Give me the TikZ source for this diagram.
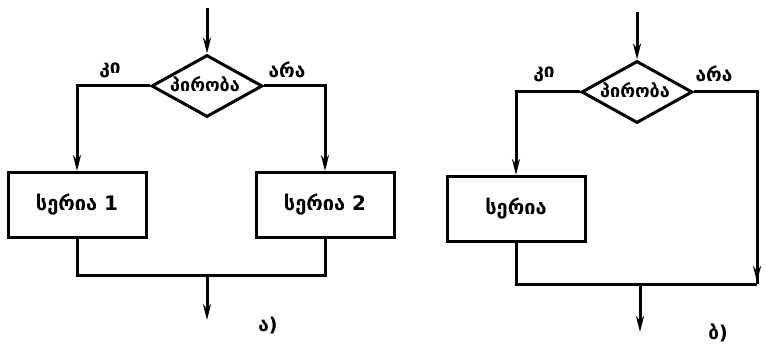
\documentclass[tikz,border=0pt]{standalone}
\usepackage{fontspec}
\newfontfamily\geo{DejaVu Sans}
\usetikzlibrary{shapes.geometric,arrows.meta}
\begin{document}
\begin{tikzpicture}[x=1pt,y=-1pt,
  line width=3pt,
  flow/.style={-{Stealth[length=16pt,width=8pt]}},
  cond/.style={draw,diamond,aspect=1.8,minimum width=111pt,minimum height=62pt,inner sep=0pt,font=\geo\bfseries\fontsize{18}{20}\selectfont},
  stepbox/.style={draw,rectangle,minimum width=138pt,minimum height=65pt,font=\geo\bfseries\fontsize{20}{22}\selectfont},
  lbl/.style={font=\geo\bfseries\fontsize{19}{20}\selectfont}]
\useasboundingbox (0,0) rectangle (765,355);
% (a)
\coordinate (a0) at (207,8);
\node[cond] (ad) at (207,86) {};
\node[font=\geo\bfseries\fontsize{18}{20}\selectfont,inner sep=0pt] (adt) at (205,84) {პირობა};
\node[stepbox] (ab1) at (77,205) {სერია 1};
\node[stepbox] (ab2) at (325,205) {სერია 2};
\coordinate (aj) at (207,275);
\coordinate (aout) at (207,320);
\draw[flow] (a0) -- (ad.north);
\draw[flow] (ad.west) -| (ab1.north);
\draw[flow] (ad.east) -| (ab2.north);
\draw (ab1.south) |- (aj) -| (ab2.south);
\draw[flow] (aj) -- (aout);
\node[lbl] (ayes) at (110,70) {კი};
\node[lbl] (ano) at (287,70) {არა};
\node[lbl] (acap) at (268,326) {ა)};
% (b)
\coordinate (b0) at (637,12);
\node[cond] (bd) at (637,92) {};
\node[font=\geo\bfseries\fontsize{18}{20}\selectfont,inner sep=0pt] (bdt) at (635,90) {პირობა};
\node[stepbox] (bb) at (516,209) {სერია};
\coordinate (br) at (757,92);
\coordinate (brj) at (757,284);
\coordinate (brt) at (757,282);
\coordinate (bj) at (640,284);
\coordinate (bout) at (640,332);
\draw[flow] (b0) -- (bd.north);
\draw[flow] (bd.west) -| (bb.north);
\draw[flow] (bd.east) -| (brt);
\draw (br) -- (brj);
\draw (bb.south) |- (brj);
\draw[flow] (bj) -- (bout);
\node[lbl] (byes) at (544,74) {კი};
\node[lbl] (bno) at (714,74) {არა};
\node[lbl] (bcap) at (718,333) {ბ)};
\end{tikzpicture}
\end{document}
